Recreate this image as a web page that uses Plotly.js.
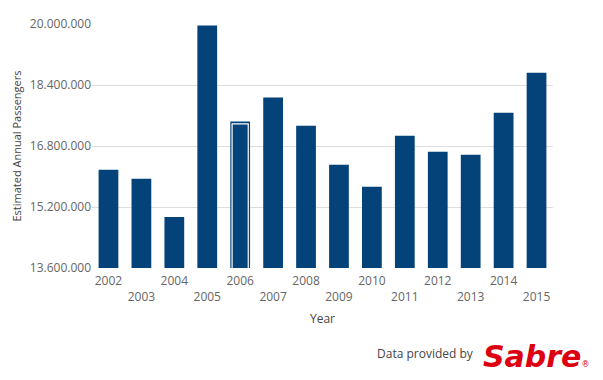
<!DOCTYPE html>
<html>
<head>
<meta charset="utf-8">
<script src="https://cdn.plot.ly/plotly-3.0.1.min.js"></script>
<style>html,body{margin:0;padding:0;background:#fff;}#chart{width:603px;height:380px;}</style>
</head>
<body>
<div id="chart"></div>
<script>
const years = ['2002','2003','2004','2005','2006','2007','2008','2009','2010','2011','2012','2013','2014','2015'];
const passengers = [16175000, 15940000, 14940000, 19960000, 17440000, 18070000, 17330000, 16310000, 15730000, 17070000, 16650000, 16570000, 17670000, 18720000];
const highlightYear = '2006';
const yTicks = [13600000, 15200000, 16800000, 18400000, 20000000];

const hi = years.indexOf(highlightYear);
const tickText = years.map((y, i) => (i % 2 === 0 ? y : '<br>' + y));

const traces = [
  {
    type: 'bar',
    x: years,
    y: passengers,
    marker: {color: '#03437A'},
    hoverinfo: 'x+y'
  },
  {
    type: 'bar',
    x: [years[hi]],
    y: [passengers[hi] - 60000],
    width: 0.49,
    marker: {color: 'rgba(0,0,0,0)', line: {color: '#ffffff', width: 1.2}},
    hoverinfo: 'skip'
  }
];

const layout = {
  width: 603,
  height: 380,
  margin: {l: 92, r: 50, t: 24, b: 112},
  paper_bgcolor: '#ffffff',
  plot_bgcolor: '#ffffff',
  separators: ',.',
  barmode: 'overlay',
  bargap: 0.4,
  showlegend: false,
  font: {family: '"Open Sans", sans-serif', color: '#666'},
  xaxis: {
    type: 'category',
    tickvals: years,
    ticktext: tickText,
    tickfont: {size: 12, color: '#666'},
    ticklabelstandoff: 4,
    showgrid: false,
    showline: false,
    zeroline: false,
    ticks: '',
    title: {text: 'Year', font: {size: 12, color: '#444'}, standoff: 11}
  },
  yaxis: {
    range: [13600000, 20000000],
    tickvals: yTicks,
    tickformat: ',d',
    tickfont: {size: 12, color: '#666'},
    gridcolor: '#dddddd',
    gridwidth: 1,
    zeroline: false,
    showline: false,
    ticks: '',
    title: {text: 'Estimated Annual Passengers', font: {size: 11, color: '#444'}, standoff: 5}
  },
  annotations: [
    {
      xref: 'paper', yref: 'paper', x: 0.833, y: -0.352, xanchor: 'right', yanchor: 'middle',
      showarrow: false,
      text: 'Data provided by',
      font: {family: '"Open Sans", sans-serif', size: 12, color: '#444'}
    },
    {
      xref: 'paper', yref: 'paper', x: 0.843, y: -0.362, xanchor: 'left', yanchor: 'middle',
      showarrow: false,
      text: '<b><i>Sabre</i></b><span style="font-size:8px">®</span>',
      font: {family: '"DejaVu Sans", sans-serif', size: 30, color: '#dd0010'}
    }
  ]
};

Plotly.newPlot('chart', traces, layout, {displayModeBar: false, responsive: false});
</script>
</body>
</html>
